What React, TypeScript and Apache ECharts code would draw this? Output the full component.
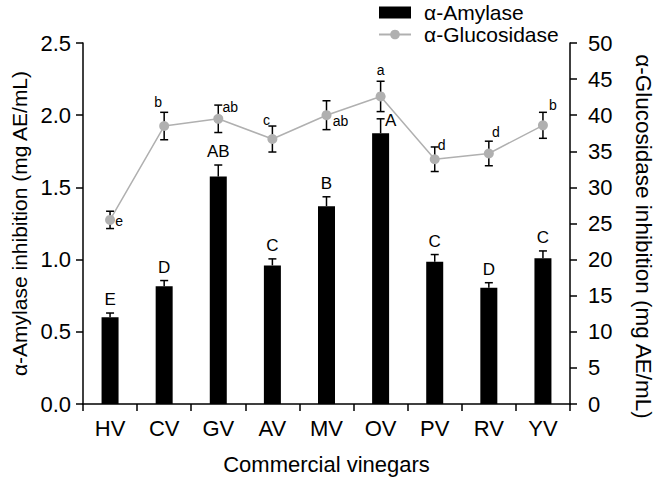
import React, { useEffect, useRef } from "react";
import * as echarts from "echarts";

const categories = ["HV", "CV", "GV", "AV", "MV", "OV", "PV", "RV", "YV"];
const amylase = [0.6, 0.815, 1.575, 0.96, 1.37, 1.875, 0.985, 0.805, 1.01];
const amylaseErr = [0.03, 0.04, 0.08, 0.045, 0.065, 0.1, 0.05, 0.035, 0.05];
const amylaseLetters = ["E", "D", "AB", "C", "B", "A", "C", "D", "C"];
const glucosidase = [25.5, 38.5, 39.5, 36.7, 40.0, 42.6, 33.9, 34.7, 38.6];
const glucosidaseErr = [1.2, 1.9, 1.9, 1.8, 2.0, 2.1, 1.7, 1.7, 1.8];
const glucosidaseLetters = ["e", "b", "ab", "c", "ab", "a", "d", "d", "b"];

// label placement tweaks (pixels)
const amyLabelOffsets = [[0, 0], [0, 0], [0, 0], [0, 0], [0, 0], [10, 15], [0, 0], [0, 0], [0, 0]];
const glucLabelOffsets = [[9, 1.5], [-6, -24], [12, -12], [-6, -19], [14, 6], [0, -26], [7, -14], [7, -21], [10, -20]];

const FONT = '"Liberation Sans", Arial, Helvetica, sans-serif';

export default function App() {
  const ref = useRef<HTMLDivElement>(null);
  useEffect(() => {
    if (!ref.current) return;
    const chart = echarts.init(ref.current, undefined, { renderer: "svg" });

    const amyErrData = categories.map((_, i) => [i, amylase[i], amylase[i] + amylaseErr[i]]);
    const glucErrData = categories.map((_, i) => [
      i,
      glucosidase[i] - glucosidaseErr[i],
      glucosidase[i] + glucosidaseErr[i],
      glucosidase[i],
    ]);

    const cap = 4;
    const option: any = {
      animation: false,
      textStyle: { fontFamily: FONT },
      grid: { left: 83, right: 85, top: 43, bottom: 72, containLabel: false },
      legend: {
        orient: "vertical",
        left: 378,
        top: 2,
        padding: 0,
        itemWidth: 32,
        itemHeight: 12,
        itemGap: 1,
        textStyle: { fontSize: 21, color: "#000", fontFamily: FONT, padding: [0, 0, 0, 8] },
        data: [
          { name: "α-Amylase", icon: "rect" },
          { name: "α-Glucosidase" },
        ],
      },
      xAxis: {
        type: "category",
        data: categories,
        boundaryGap: true,
        axisLine: { lineStyle: { color: "#000", width: 1.5 } },
        axisTick: { show: true, length: 7, inside: false, lineStyle: { color: "#000", width: 1.5 }, alignWithLabel: false },
        axisLabel: { color: "#000", fontSize: 22, margin: 13, fontFamily: FONT },
        name: "Commercial vinegars",
        nameLocation: "middle",
        nameGap: 49,
        nameTextStyle: { color: "#000", fontSize: 22, fontFamily: FONT },
      },
      yAxis: [
        {
          type: "value",
          min: 0,
          max: 2.5,
          interval: 0.5,
          position: "left",
          axisLine: { show: true, lineStyle: { color: "#000", width: 1.5 } },
          axisTick: { show: true, length: 7, lineStyle: { color: "#000", width: 1.5 } },
          splitLine: { show: false },
          axisLabel: { color: "#000", fontSize: 22, margin: 12, fontFamily: FONT, formatter: (v: number) => v.toFixed(1) },
          name: "α-Amylase inhibition (mg AE/mL)",
          nameLocation: "middle",
          nameRotate: 90,
          nameGap: 52,
          nameTextStyle: { color: "#000", fontSize: 21, fontFamily: FONT },
        },
        {
          type: "value",
          min: 0,
          max: 50,
          interval: 5,
          position: "right",
          axisLine: { show: true, lineStyle: { color: "#000", width: 1.5 } },
          axisTick: { show: true, length: 7, lineStyle: { color: "#000", width: 1.5 } },
          splitLine: { show: false },
          axisLabel: { color: "#000", fontSize: 22, margin: 18, fontFamily: FONT },
          name: "α-Glucosidase inhibition (mg AE/mL)",
          nameLocation: "middle",
          nameRotate: -90,
          nameGap: 62,
          nameTextStyle: { color: "#000", fontSize: 22.5, fontFamily: FONT, padding: [0, 0, 0, 26] },
        },
      ],
      series: [
        {
          name: "α-Amylase",
          type: "bar",
          yAxisIndex: 0,
          data: amylase,
          barWidth: 17,
          itemStyle: { color: "#000" },
          z: 2,
        },
        {
          name: "amyErr",
          type: "custom",
          yAxisIndex: 0,
          data: amyErrData,
          z: 3,
          renderItem: (params: any, api: any) => {
            const i = api.value(0);
            const pLo = api.coord([i, api.value(1)]);
            const pHi = api.coord([i, api.value(2)]);
            const off = amyLabelOffsets[params.dataIndex];
            return {
              type: "group",
              children: [
                { type: "line", shape: { x1: pLo[0], y1: pLo[1], x2: pHi[0], y2: pHi[1] }, style: { stroke: "#000", lineWidth: 1.5 } },
                { type: "line", shape: { x1: pHi[0] - cap, y1: pHi[1], x2: pHi[0] + cap, y2: pHi[1] }, style: { stroke: "#000", lineWidth: 1.5 } },
                {
                  type: "text",
                  x: pHi[0] + off[0],
                  y: pHi[1] - 5 + off[1],
                  style: {
                    text: amylaseLetters[params.dataIndex],
                    fontSize: 17,
                    fontFamily: FONT,
                    fill: "#000",
                    align: "center",
                    verticalAlign: "bottom",
                  },
                },
              ],
            };
          },
        },
        {
          name: "glucErr",
          type: "custom",
          yAxisIndex: 1,
          data: glucErrData,
          z: 4,
          renderItem: (params: any, api: any) => {
            const i = api.value(0);
            const pLo = api.coord([i, api.value(1)]);
            const pHi = api.coord([i, api.value(2)]);
            const pMid = api.coord([i, api.value(3)]);
            const off = glucLabelOffsets[params.dataIndex];
            return {
              type: "group",
              children: [
                { type: "line", shape: { x1: pLo[0], y1: pLo[1], x2: pHi[0], y2: pHi[1] }, style: { stroke: "#000", lineWidth: 1.5 } },
                { type: "line", shape: { x1: pHi[0] - cap, y1: pHi[1], x2: pHi[0] + cap, y2: pHi[1] }, style: { stroke: "#000", lineWidth: 1.5 } },
                { type: "line", shape: { x1: pLo[0] - cap, y1: pLo[1], x2: pLo[0] + cap, y2: pLo[1] }, style: { stroke: "#000", lineWidth: 1.5 } },
                {
                  type: "text",
                  x: pMid[0] + off[0],
                  y: pMid[1] + off[1],
                  style: {
                    text: glucosidaseLetters[params.dataIndex],
                    fontSize: 14,
                    fontFamily: FONT,
                    fill: "#000",
                    align: "center",
                    verticalAlign: "middle",
                  },
                },
              ],
            };
          },
        },
        {
          name: "α-Glucosidase",
          type: "line",
          yAxisIndex: 1,
          data: glucosidase,
          symbol: "circle",
          symbolSize: 10,
          lineStyle: { color: "#b0b0b0", width: 1.5 },
          itemStyle: { color: "#b0b0b0" },
          z: 5,
        },
      ],
    };
    chart.setOption(option);
    return () => chart.dispose();
  }, []);
  return <div ref={ref} style={{ width: 663, height: 480, position: "absolute", left: 0, top: 0 }} />;
}
